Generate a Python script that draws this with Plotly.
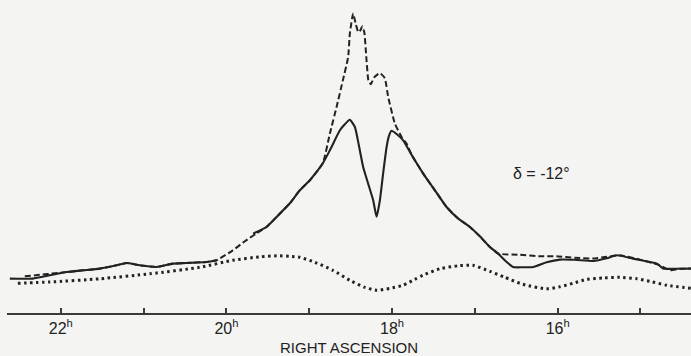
import plotly.graph_objects as go

# Right ascension (hours) and relative intensity for the three traces
solid_ra = [22.616, 22.338, 22.133, 21.931, 21.731, 21.529, 21.327, 21.207, 21.046, 20.844,
            20.644, 20.482, 20.240, 20.120, 20.0,
            19.678, 19.516, 19.395, 19.234, 19.114, 18.993, 18.836, 18.751, 18.630, 18.570,
            18.510, 18.449, 18.401, 18.349, 18.289, 18.228, 18.187, 18.147, 18.108, 18.066,
            18.039, 18.006, 17.942, 17.866, 17.761, 17.624, 17.483, 17.342, 17.205, 17.060,
            16.940, 16.819, 16.719, 16.638, 16.537, 16.432, 16.296, 16.134, 15.973, 15.792,
            15.571, 15.406, 15.285, 15.092, 14.886, 14.802, 14.726, 14.572, 14.391]
solid_val = [34.4, 34.4, 37.7, 41.0, 42.7, 44.4, 47.7, 50.0, 47.7, 46.0,
             49.4, 50.0, 51.0, 52.7, None,
             79.4, 86.0, 96.0, 109.7, 122.7, 132.7, 149.7, 162.7, 182.7, 188.7,
             193.2, 186.0, 167.7, 146.0, 129.4, 112.7, 96.2, 112.7, 139.4, 166.0,
             176.7, 182.2, 178.7, 172.7, 157.7, 139.4, 122.7, 106.0, 94.7, 86.0,
             76.7, 66.0, 59.4, 52.7, 46.0, 45.7, 46.0, 50.7, 53.4, 53.2,
             52.0, 54.7, 57.7, 54.4, 51.0, 49.4, 44.4, 44.2, 44.4]

dashed_ra = [22.435, 22.254, 22.072, 21.891, 21.731, 21.529, 21.327, 21.207, 21.046, 20.844,
             20.644, 20.482, 20.240, 20.120, 19.923, 19.778, 19.636, 19.516, 19.395, 19.234,
             19.114, 18.993, 18.836, 18.751, 18.670, 18.594, 18.530, 18.510, 18.470, 18.437,
             18.407, 18.383, 18.359, 18.335, 18.310, 18.286, 18.256, 18.216, 18.147, 18.087,
             18.047, 17.966, 17.885, 17.825, 17.761, 17.624, 17.483, 17.342, 17.205, 17.060,
             16.940, 16.819, 16.719, 16.457, 16.215, 16.013, 15.792, 15.575, 15.406, 15.249,
             15.007, 14.766, 14.645, 14.524, 14.391]
dashed_val = [36.7, 38.2, 39.7, 41.2, 42.7, 44.4, 47.7, 50.0, 47.7, 46.0,
              49.4, 50.0, 51.0, 52.7, 62.7, 71.7, 79.7, 86.0, 96.0, 109.7,
              122.7, 132.7, 149.7, 179.4, 206.0, 232.7, 256.0, 279.4, 299.4, 288.7,
              280.7, 282.7, 286.7, 280.7, 254.7, 232.7, 228.7, 235.7, 240.0, 234.7,
              216.0, 189.4, 176.0, 169.4, 157.7, 139.4, 122.7, 106.0, 94.7, 86.0,
              76.7, 66.0, 59.4, 58.2, 56.7, 56.7, 55.2, 54.4, 56.2, 57.7,
              53.4, 47.7, 42.7, 44.2, 44.4]

dotted_ra = [22.519, 22.133, 21.529, 20.925, 20.321, 19.923, 19.597, 19.391, 19.234, 19.114,
             18.932, 18.715, 18.510, 18.329, 18.184, 18.027, 17.870, 17.725, 17.628, 17.423,
             17.205, 17.024, 16.819, 16.638, 16.420, 16.134, 15.973, 15.816, 15.647, 15.454,
             15.249, 15.043, 14.886, 14.681, 14.391]
dotted_val = [29.7, 31.0, 34.2, 39.2, 45.7, 52.7, 56.2, 57.2, 56.7, 55.7,
              50.7, 42.7, 32.7, 25.7, 22.7, 24.7, 27.7, 33.7, 37.7, 44.2,
              47.2, 47.7, 41.7, 35.7, 28.7, 24.2, 26.2, 29.7, 33.7, 35.0,
              35.7, 34.2, 31.7, 27.7, 24.7]

major_ticks = [22, 20, 18, 16]
major_labels = ["22<sup>h</sup>", "20<sup>h</sup>", "18<sup>h</sup>", "16<sup>h</sup>"]
minor_ticks = [21, 19, 17, 15]

ink = "#222222"
bg = "#f4f4f2"
font_family = "Liberation Sans, Arial"

fig = go.Figure()
fig.add_trace(go.Scatter(x=dotted_ra, y=dotted_val, mode="lines",
                         line=dict(color=ink, width=3, dash="2.5px,3.5px", shape="spline", smoothing=0.6),
                         showlegend=False, hoverinfo="skip"))
fig.add_trace(go.Scatter(x=dashed_ra, y=dashed_val, mode="lines",
                         line=dict(color=ink, width=2, dash="6px,3px", shape="spline", smoothing=0.4),
                         showlegend=False, hoverinfo="skip"))
fig.add_trace(go.Scatter(x=solid_ra, y=solid_val, mode="lines", connectgaps=False,
                         line=dict(color=ink, width=2.1, shape="spline", smoothing=0.5),
                         showlegend=False, hoverinfo="skip"))

fig.add_annotation(x=16.2, y=139.7, xref="x", yref="y", text="δ = -12°", showarrow=False,
                   font=dict(family=font_family, size=16, color=ink))

# axis title placed as paper annotation, centred ~34 px below the axis line
fig.add_annotation(x=0.5, y=-34 / 313, xref="paper", yref="paper", text="RIGHT ASCENSION",
                   showarrow=False, xanchor="center", yanchor="middle",
                   font=dict(family=font_family, size=15, color=ink))

fig.update_layout(
    width=691, height=356,
    margin=dict(l=7, r=0, t=0, b=43),
    paper_bgcolor=bg, plot_bgcolor=bg,
    font=dict(family=font_family, color=ink),
    xaxis=dict(range=[22.65, 14.39], showline=True, linecolor="#3a3a3a", linewidth=1.5,
               showgrid=False, zeroline=False, ticks="inside", ticklen=5, tickwidth=1.5,
               tickcolor="#3a3a3a", tickmode="array", tickvals=major_ticks, ticktext=major_labels,
               tickfont=dict(size=16, color=ink), ticklabelstandoff=0,
               minor=dict(tickmode="array", tickvals=minor_ticks, ticks="inside", ticklen=5,
                          tickwidth=1.5, tickcolor="#3a3a3a", showgrid=False),
               automargin=False),
    yaxis=dict(range=[0, 313], visible=False),
)

fig.write_html(
    "out.html",
    config={"displayModeBar": False},
    post_script="document.body.style.margin='0';document.body.style.background='%s';" % bg,
)
